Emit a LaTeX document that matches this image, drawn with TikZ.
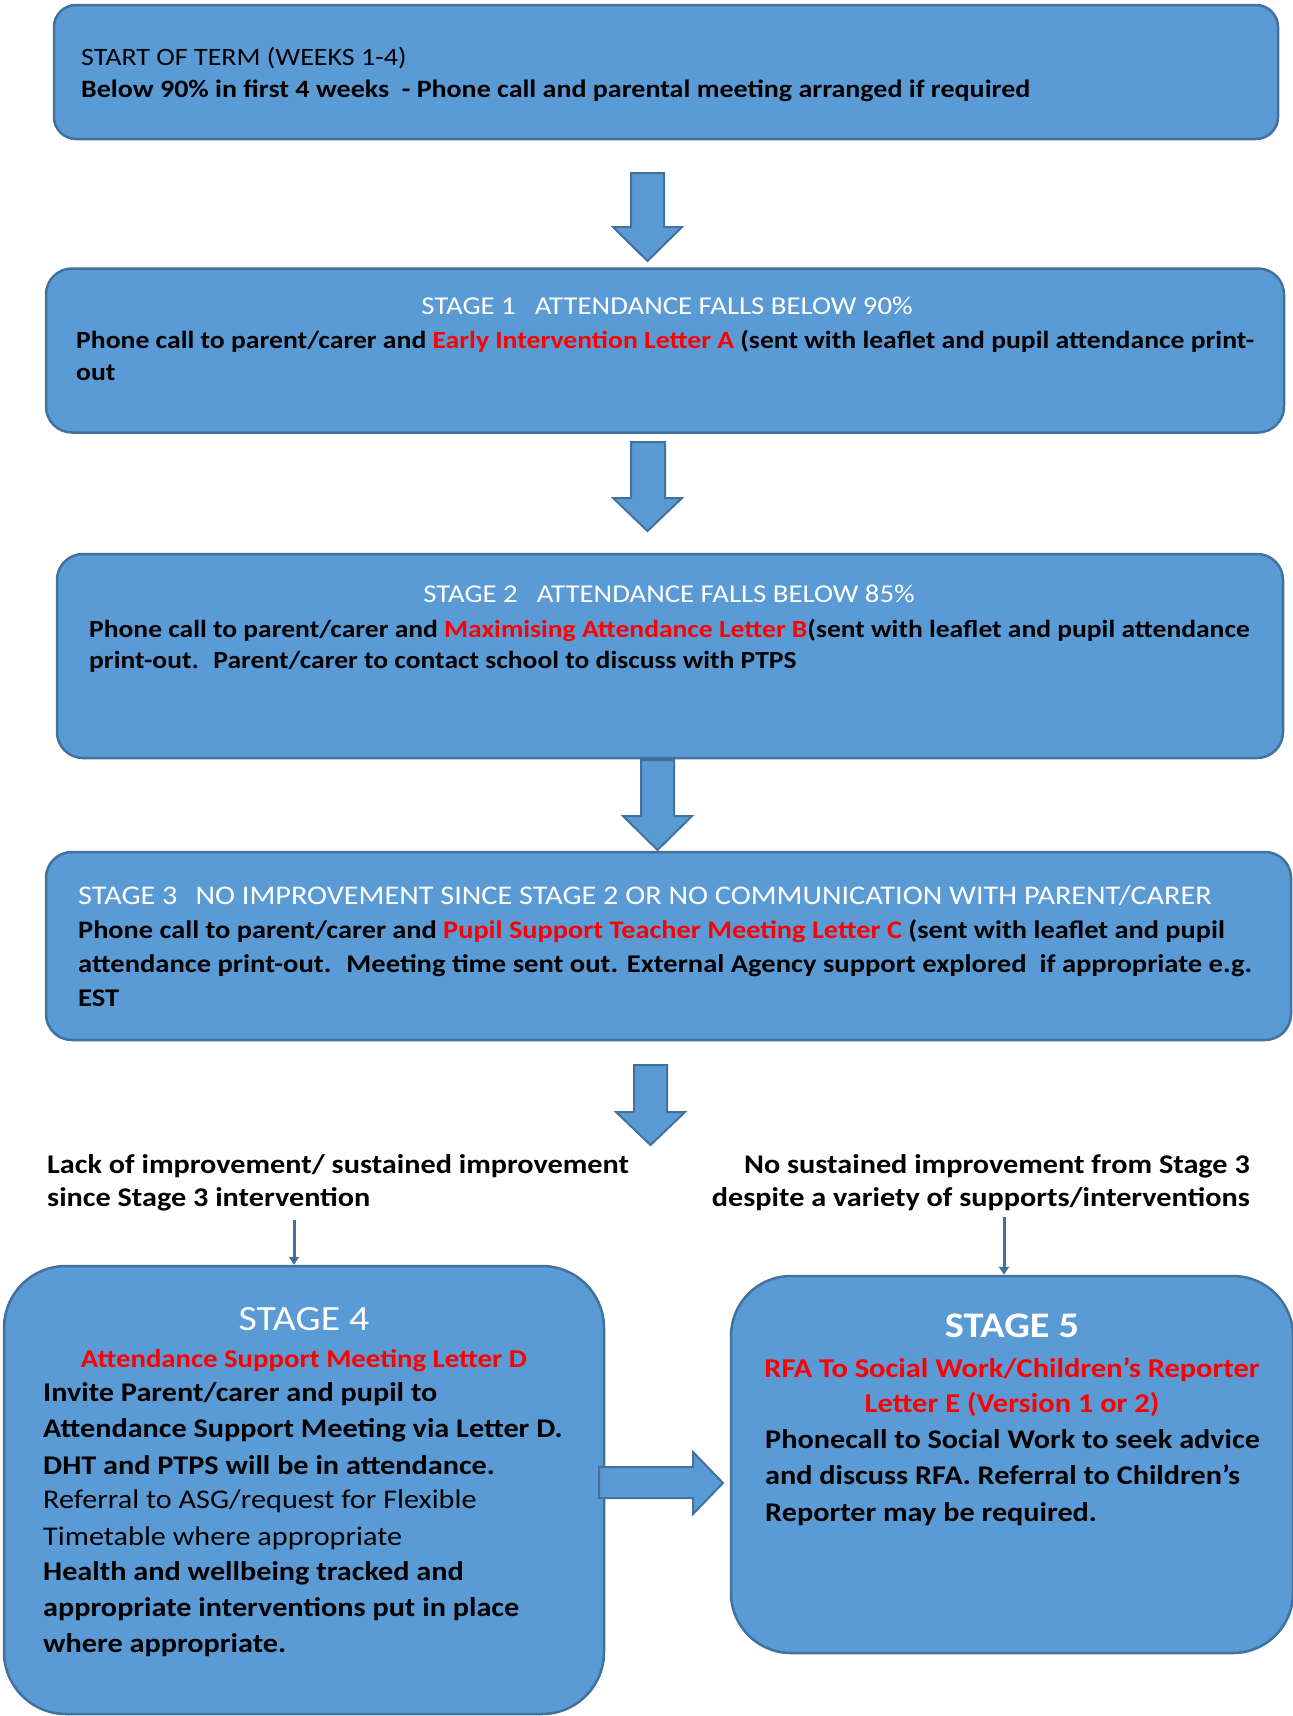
\documentclass[tikz,border=0pt]{standalone}
\usepackage{fontspec}
\setmainfont{Carlito}[FakeStretch=1.12]
\usetikzlibrary{arrows.meta}
\definecolor{boxfill}{HTML}{5B9BD5}
\definecolor{boxline}{HTML}{41719C}
\definecolor{txtred}{HTML}{FF0000}
\newcommand\rd[1]{\textcolor{txtred}{#1}}
\newcommand\fsz[1]{\fontsize{#1}{#1}\selectfont}
\begin{document}
\begin{tikzpicture}[x=1pt,y=-1pt,
  stagebox/.style={draw=boxline, fill=boxfill, line width=2.5pt, inner sep=0pt},
  blockarrow/.style={draw=boxline, fill=boxfill, line width=2pt, line join=miter},
  thinarrow/.style={draw=boxline, line width=3pt, -{Triangle[width=10pt,length=8pt]}},
  ln/.style={anchor=base west, inner sep=0pt, font=\fsz{25}},
  lnc/.style={anchor=base, inner sep=0pt, font=\fsz{25}},
  wt/.style={text=white},
  bd/.style={font=\fsz{25}\bfseries},
]
\useasboundingbox (0,0) rectangle (1293,1716);
\fill[white] (0,0) rectangle (1293,1716);

% boxes
\node[stagebox, rounded corners=22pt, minimum width=1224pt, minimum height=134pt] (b1) at (666,72) {};
\node[stagebox, rounded corners=26pt, minimum width=1238pt, minimum height=164pt] (b2) at (665,350.5) {};
\node[stagebox, rounded corners=26pt, minimum width=1226pt, minimum height=204pt] (b3) at (670,656) {};
\node[stagebox, rounded corners=26pt, minimum width=1245pt, minimum height=188pt] (b4) at (668.5,946) {};
\node[stagebox, rounded corners=62pt, minimum width=600pt, minimum height=448pt] (b5) at (304,1490) {};
\node[stagebox, rounded corners=60pt, minimum width=562pt, minimum height=377pt] (b6) at (1012,1464.5) {};

% block arrows between boxes
\draw[blockarrow] (631,173) -- (664,173) -- (664,227) -- (682,227) -- (647.5,261) -- (613,227) -- (631,227) -- cycle;
\draw[blockarrow] (631,442) -- (665,442) -- (665,498) -- (682,498) -- (647.5,531) -- (613,498) -- (631,498) -- cycle;
\draw[blockarrow] (641,760) -- (674,760) -- (674,816) -- (692,816) -- (657.5,850) -- (623,816) -- (641,816) -- cycle;
\draw[blockarrow] (634,1065) -- (667,1065) -- (667,1112) -- (685,1112) -- (650.5,1145) -- (616,1112) -- (634,1112) -- cycle;
\draw[blockarrow] (599,1467) -- (693,1467) -- (693,1452) -- (723,1483) -- (693,1514) -- (693,1498) -- (599,1498) -- cycle;

% box 1 text
\node[ln] (t1a) at (81,65) {START OF TERM (WEEKS 1-4)};
\node[ln, bd] (t1b) at (81,97) {Below 90\% in first 4 weeks~ - Phone call and parental meeting arranged if required};

% stage 1
\node[lnc, wt, font=\fsz{25.7}] (t2a) at (667,314) {STAGE 1\hspace{19pt}ATTENDANCE FALLS BELOW 90\%};
\node[ln, font=\fsz{24.7}\bfseries] (t2b) at (76,348) {Phone call to parent/carer and \rd{Early Intervention Letter A} (sent with leaflet and pupil attendance print-};
\node[ln, font=\fsz{24.7}\bfseries] (t2c) at (76,380) {out};

% stage 2
\node[lnc, wt, font=\fsz{25.7}] (t3a) at (669,602) {STAGE 2\hspace{19pt}ATTENDANCE FALLS BELOW 85\%};
\node[ln, font=\fsz{24.6}\bfseries] (t3b) at (89,637) {Phone call to parent/carer and \rd{Maximising Attendance Letter B}(sent with leaflet and pupil attendance};
\node[ln, font=\fsz{24.6}\bfseries] (t3c) at (89,668) {print-out.~ Parent/carer to contact school to discuss with PTPS};

% stage 3
\node[ln, wt, font=\fsz{27}] (t4a) at (78,904) {STAGE 3\hspace{18pt}NO IMPROVEMENT SINCE STAGE 2 OR NO COMMUNICATION WITH PARENT/CARER};
\node[ln, font=\fsz{25.3}\bfseries] (t4b) at (78,938) {Phone call to parent/carer and \rd{Pupil Support Teacher Meeting Letter C} (sent with leaflet and pupil};
\node[ln, font=\fsz{25.5}\bfseries] (t4c) at (78,972) {attendance print-out.~ Meeting time sent out. External Agency support explored~ if appropriate e.g.};
\node[ln, font=\fsz{25.5}\bfseries] (t4d) at (78,1006) {EST};

% branch labels
\node[ln, font=\fsz{27}\bfseries] (l1) at (47,1173) {Lack of improvement/ sustained improvement};
\node[ln, font=\fsz{27}\bfseries] (l2) at (47,1206) {since Stage 3 intervention};
\node[anchor=base east, inner sep=0pt, font=\fsz{27}\bfseries] (r1) at (1250,1173) {No sustained improvement from Stage 3};
\node[anchor=base east, inner sep=0pt, font=\fsz{27}\bfseries] (r2) at (1250,1206) {despite a variety of supports/interventions};

\coordinate (la) at (294,1220);
\coordinate (ra) at (1004,1217);
\draw[thinarrow] (la) -- (la |- b5.north);
\draw[thinarrow] (ra) -- (ra |- b6.north);

% stage 4
\node[lnc, wt, font=\fsz{35.5}] (s4a) at (304,1330) {STAGE 4};
\node[lnc, font=\fsz{25.7}\bfseries, text=txtred] (s4b) at (304,1367) {Attendance Support Meeting Letter D};
\node[ln, font=\fsz{27}\bfseries] (s4c) at (43,1401) {Invite Parent/carer and pupil to};
\node[ln, font=\fsz{27}\bfseries] (s4d) at (43,1437) {Attendance Support Meeting via Letter D.};
\node[ln, font=\fsz{27}\bfseries] (s4e) at (43,1474) {DHT and PTPS will be in attendance.};
\node[ln, font=\fsz{27}] (s4f) at (43,1508) {Referral to ASG/request for Flexible};
\node[ln, font=\fsz{27}] (s4g) at (43,1545) {Timetable where appropriate};
\node[ln, font=\fsz{27}\bfseries] (s4h) at (43,1580) {Health and wellbeing tracked and};
\node[ln, font=\fsz{27}\bfseries] (s4i) at (43,1616) {appropriate interventions put in place};
\node[ln, font=\fsz{27}\bfseries] (s4j) at (43,1652) {where appropriate.};

% stage 5
\node[lnc, wt, font=\fsz{36}\bfseries] (s5a) at (1012,1337) {STAGE 5};
\node[lnc, font=\fsz{27.2}\bfseries, text=txtred] (s5b) at (1012,1377) {RFA To Social Work/Children’s Reporter};
\node[lnc, font=\fsz{27.2}\bfseries, text=txtred] (s5c) at (1012,1412) {Letter E (Version 1 or 2)};
\node[ln, font=\fsz{27}\bfseries] (s5d) at (765,1448) {Phonecall to Social Work to seek advice};
\node[ln, font=\fsz{27}\bfseries] (s5e) at (765,1484) {and discuss RFA. Referral to Children’s};
\node[ln, font=\fsz{27}\bfseries] (s5f) at (765,1521) {Reporter may be required.};
\end{tikzpicture}
\end{document}
